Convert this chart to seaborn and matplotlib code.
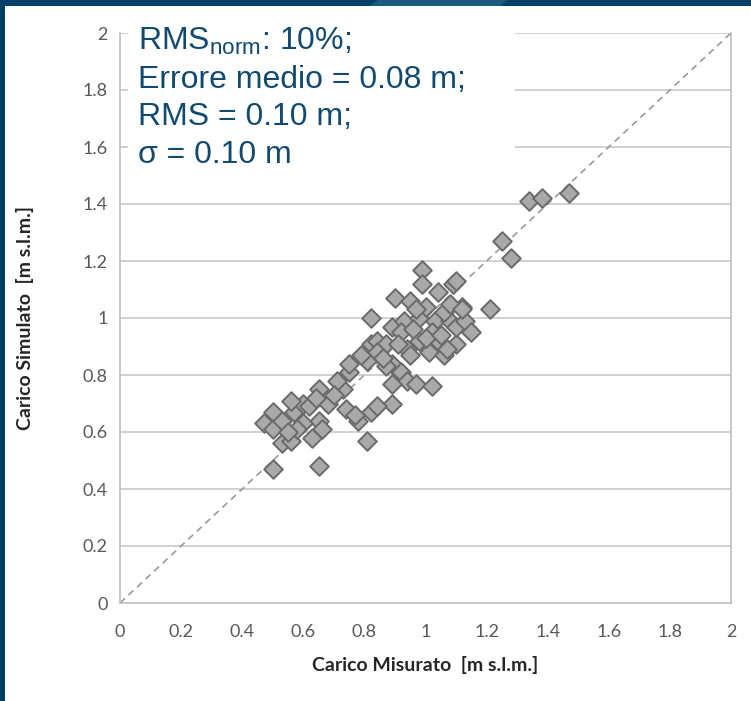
import matplotlib
matplotlib.use("Agg")
import matplotlib.pyplot as plt
import matplotlib.patches as mpatches
import pandas as pd
import seaborn as sns

measured = [
    0.50, 0.65, 0.81, 0.82, 0.47, 0.50, 0.50, 0.53, 0.56, 0.57, 0.60, 0.56,
    0.65, 0.65, 0.66, 0.63, 0.68, 0.73, 0.71, 0.74, 0.78, 0.75, 0.75, 0.81,
    0.82, 0.60, 0.53, 0.58, 0.55, 0.62, 0.64, 0.77, 0.70,
    0.82, 0.84, 0.87, 0.89, 0.90, 0.93, 0.95, 0.99, 0.99, 0.98, 1.03, 1.04,
    1.08, 1.09, 1.12, 1.14, 0.98, 1.04, 1.10, 0.94, 1.01, 1.06, 0.84, 0.89,
    0.92, 0.87, 0.94, 0.97, 1.02, 0.89, 0.89, 0.84, 0.79, 0.86, 0.92, 0.96,
    1.00, 1.02, 1.06, 1.10, 1.13, 1.00, 0.97, 1.05, 1.08, 0.91, 0.95, 1.12,
    1.21, 1.10, 1.15, 1.07,
    1.34, 1.38, 1.47, 1.25, 1.28,
]
simulated = [
    0.47, 0.48, 0.57, 0.67, 0.63, 0.67, 0.61, 0.56, 0.57, 0.67, 0.70, 0.71,
    0.75, 0.64, 0.61, 0.58, 0.70, 0.75, 0.78, 0.68, 0.64, 0.81, 0.84, 0.85,
    0.91, 0.63, 0.64, 0.61, 0.60, 0.69, 0.72, 0.66, 0.73,
    1.00, 0.92, 0.91, 0.97, 1.07, 0.99, 1.06, 1.17, 1.12, 1.00, 0.99, 1.09,
    0.99, 1.12, 1.04, 0.96, 0.92, 0.92, 0.91, 0.89, 0.88, 0.87, 0.88, 0.84,
    0.81, 0.83, 0.78, 0.77, 0.76, 0.77, 0.70, 0.69, 0.87, 0.86, 0.95, 0.96,
    1.04, 0.95, 1.02, 0.97, 0.99, 0.93, 1.03, 0.94, 1.05, 0.91, 0.87, 1.03,
    1.03, 1.13, 0.95, 0.89,
    1.41, 1.42, 1.44, 1.27, 1.21,
]
axis_ticks = [0, 0.2, 0.4, 0.6, 0.8, 1, 1.2, 1.4, 1.6, 1.8, 2]
stats_lines = [
    r"RMS$_{\mathrm{norm}}$: 10%;",
    "Errore medio = 0.08 m;",
    "RMS = 0.10 m;",
    "\u03c3 = 0.10 m",
]

df = pd.DataFrame({"Misurato": measured, "Simulato": simulated})

sns.set_theme(style="white")
plt.rcParams["font.family"] = ["Lato", "DejaVu Sans"]
plt.rcParams["mathtext.fontset"] = "custom"
plt.rcParams["mathtext.rm"] = "Liberation Sans"

fig = plt.figure(figsize=(7.51, 7.01), dpi=100)
fig.patch.set_facecolor("white")

# dark blue slide frame (top and left bands)
blue = "#034067"
fig.patches.append(mpatches.Rectangle((0, 1 - 6 / 701), 1, 6 / 701, transform=fig.transFigure,
                                      facecolor=blue, edgecolor="none", zorder=0))
fig.patches.append(mpatches.Polygon([(378 / 751, 1), (508 / 751, 1), (500 / 751, 1 - 6 / 701),
                                     (370 / 751, 1 - 6 / 701)], closed=True, transform=fig.transFigure,
                                    facecolor="#1d5a80", edgecolor="none", zorder=0))
fig.patches.append(mpatches.Rectangle((0, 0), 5 / 751, 1, transform=fig.transFigure,
                                      facecolor=blue, edgecolor="none", zorder=0))

ax = fig.add_axes([120 / 751, 1 - 603 / 701, 611 / 751, 570 / 701])
ax.set_facecolor("white")

# horizontal gridlines
for t in axis_ticks[1:]:
    ax.axhline(t, color="#c8c8c8", linewidth=1.2, zorder=0)

# 1:1 reference line
ax.axline((0, 0), slope=1, color="#9a9a9a", linestyle=(0, (4, 3)), linewidth=1.2, zorder=1)

sns.scatterplot(data=df, x="Misurato", y="Simulato", ax=ax, marker="D", s=90,
                color="#a9a9a9", edgecolor="#6a6a6a", linewidth=1.4, zorder=3)

ax.set_xlim(0, 2)
ax.set_ylim(0, 2)
ax.set_xticks(axis_ticks)
ax.set_yticks(axis_ticks)
ax.set_xticklabels([f"{t:g}" for t in axis_ticks])
ax.set_yticklabels([f"{t:g}" for t in axis_ticks])
ax.tick_params(axis="x", direction="out", length=7, width=1, color="#bfbfbf",
               labelsize=13, labelcolor="#595959", pad=8)
ax.tick_params(axis="y", direction="inout", length=12, width=1, color="#bfbfbf",
               labelsize=13, labelcolor="#595959", pad=3)

for side in ["left", "bottom", "right"]:
    ax.spines[side].set_color("#bfbfbf")
    ax.spines[side].set_linewidth(1.2)
ax.spines["top"].set_visible(False)

ax.set_xlabel("Carico Misurato  [m s.l.m.]", fontsize=14, fontweight="bold", color="#262626", labelpad=12)
ax.set_ylabel("Carico Simulato  [m s.l.m.]", fontsize=14, fontweight="bold", color="#262626", labelpad=35)

# white box behind the statistics text
ax.add_patch(mpatches.Rectangle((8 / 611, 1 - 145 / 570), 387 / 611, 145 / 570 + 0.02,
                                transform=ax.transAxes, facecolor="white", edgecolor="none",
                                zorder=2, clip_on=False))
for i, line in enumerate(stats_lines):
    baseline_px = 50 + 37.7 * i
    ax.text(18 / 611, (603 - baseline_px) / 570, line, transform=ax.transAxes,
            fontsize=23, color="#114a70", family="Liberation Sans",
            ha="left", va="baseline", zorder=4)

fig.savefig("out.png", dpi=100, facecolor=fig.get_facecolor())
